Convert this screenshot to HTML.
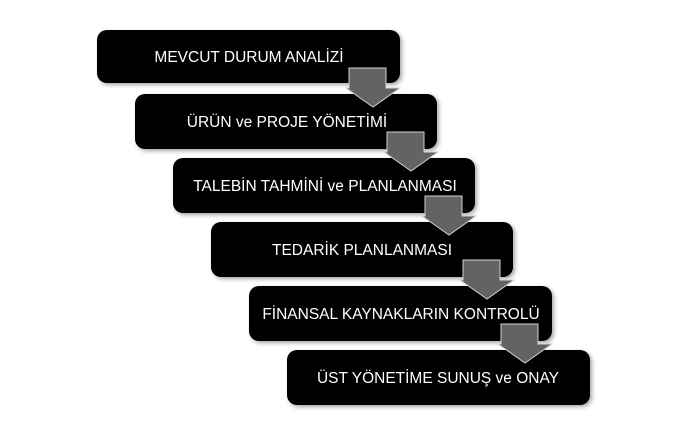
<!DOCTYPE html>
<html><head><meta charset="utf-8"><style>
body{margin:0;width:690px;height:438px;background:#fff;overflow:hidden}
svg{position:absolute;left:0;top:0}
text{font-family:"Liberation Sans",sans-serif;font-size:15.5px;fill:#fff}
</style></head><body>
<svg width="690" height="438" viewBox="0 0 690 438">
<defs><filter id="s" x="-10%" y="-20%" width="130%" height="150%"><feDropShadow dx="2" dy="2" stdDeviation="2" flood-color="#000" flood-opacity="0.35"/></filter></defs>
<g filter="url(#s)">
<rect x="97" y="30" width="303" height="53" rx="10" fill="#000"/>
<rect x="135" y="94" width="302" height="55" rx="10" fill="#000"/>
<rect x="173" y="158" width="302" height="55" rx="10" fill="#000"/>
<rect x="211" y="222" width="302" height="55" rx="10" fill="#000"/>
<rect x="249" y="286" width="303" height="55" rx="10" fill="#000"/>
<rect x="287" y="350" width="303" height="55" rx="10" fill="#000"/>
</g>
<text x="249" y="62" text-anchor="middle">MEVCUT DURUM ANALİZİ</text>
<text x="287" y="127" text-anchor="middle">ÜRÜN ve PROJE YÖNETİMİ</text>
<text x="325" y="191" text-anchor="middle">TALEBİN TAHMİNİ ve PLANLANMASI</text>
<text x="362" y="255" text-anchor="middle">TEDARİK PLANLANMASI</text>
<text x="401" y="319" text-anchor="middle">FİNANSAL KAYNAKLARIN KONTROLÜ</text>
<text x="438" y="383" text-anchor="middle">ÜST YÖNETİME SUNUŞ ve ONAY</text>
<g fill="#636363" stroke="#d0d0d0" stroke-width="1">
<path d="M349 68h37v20h14l-27 19l-27-19h3z"/>
<path d="M387 132h37v20h14l-27 19l-27-19h3z"/>
<path d="M425 196h37v20h14l-27 19l-27-19h3z"/>
<path d="M463 260h37v20h14l-27 19l-27-19h3z"/>
<path d="M501 324h37v20h14l-27 19l-27-19h3z"/>
</g>
</svg>
</body></html>
